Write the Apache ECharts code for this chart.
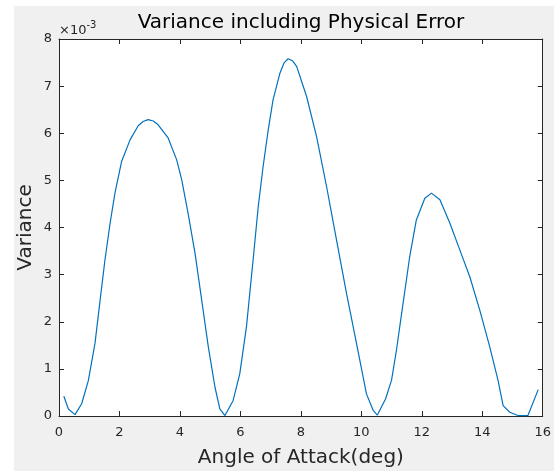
<!DOCTYPE html>
<html>
<head>
<meta charset="utf-8">
<script src="https://cdn.jsdelivr.net/npm/echarts@6/dist/echarts.min.js"></script>
<style>
	html, body { margin: 0; padding: 0; background: #fff; }
	#chart { width: 554px; height: 473px; }
</style>
</head>
<body>
<div id="chart"></div>
<script>
// angle of attack (deg) and variance in units of 1e-3
var angles = [0.16, 0.31, 0.53, 0.75, 0.97, 1.19, 1.36, 1.52, 1.69, 1.85, 2.07, 2.35, 2.62, 2.78, 2.95, 3.12, 3.28,
	3.61, 3.89, 4.06, 4.27, 4.50, 4.72, 4.94, 5.16, 5.32, 5.49, 5.76, 5.98, 6.20, 6.42, 6.59,
	6.75, 6.92, 7.08, 7.31, 7.45, 7.58, 7.72, 7.86, 8.19, 8.52, 8.85, 9.18, 9.51, 9.84, 10.17, 10.39, 10.53,
	10.80, 11.00, 11.16, 11.38, 11.60, 11.82, 12.10, 12.32, 12.60, 12.93, 13.26, 13.59, 13.92, 14.25,
	14.52, 14.69, 14.91, 15.18, 15.51, 15.85]
var variance = [0.42, 0.15, 0.03, 0.26, 0.75, 1.54, 2.46, 3.31, 4.09, 4.73, 5.40, 5.86, 6.16, 6.25, 6.29, 6.26, 6.18,
	5.90, 5.44, 5.01, 4.30, 3.45, 2.46, 1.46, 0.61, 0.15, 0.01, 0.33, 0.90, 1.89, 3.31, 4.44,
	5.29, 6.07, 6.71, 7.28, 7.50, 7.58, 7.54, 7.42, 6.78, 5.93, 4.87, 3.73, 2.60, 1.54, 0.47, 0.12, 0.02,
	0.36, 0.76, 1.39, 2.39, 3.38, 4.16, 4.62, 4.73, 4.59, 4.09, 3.52, 2.95, 2.24, 1.46,
	0.76, 0.22, 0.08, 0.01, 0.01, 0.56]
var xTicks = [0, 2, 4, 6, 8, 10, 12, 14, 16]
var yTicks = [0, 1, 2, 3, 4, 5, 6, 7, 8]

var font = '"DejaVu Sans", "Liberation Sans", Arial, sans-serif'
var ink = '#262626'

var chart = echarts.init(document.getElementById('chart'), null, {renderer: 'canvas'})

var points = angles.map(function (a, i) { return [a, variance[i]] })

function axisBase (extra) {
	var base = {
		type: 'value',
		axisLine: {show: true, onZero: false, lineStyle: {color: ink, width: 1}},
		axisTick: {show: true, inside: true, length: 5, lineStyle: {color: ink}},
		splitLine: {show: false}
	}
	return Object.assign(base, extra)
}

var option = {
	backgroundColor: '#fff',
	animation: false,
	title: {
		text: 'Variance including Physical Error',
		left: 296,
		textAlign: 'center',
		top: 8,
		textStyle: {fontFamily: font, fontSize: 20, fontWeight: 'normal', color: '#000'}
	},
	grid: {
		left: 59, right: 11, top: 39, bottom: 57,
		show: true, backgroundColor: '#fff', borderWidth: 0
	},
	graphic: [{
		// grey figure panel, MATLAB style
		type: 'rect',
		z: -100,
		silent: true,
		shape: {x: 14, y: 6, width: 540, height: 465},
		style: {fill: '#f0f0f0'}
	}, {
		type: 'text',
		left: 59,
		top: 20,
		style: {
			text: '{a|\u00d710}{b|-3}',
			rich: {
				a: {fontFamily: font, fontSize: 13, fill: ink, padding: [4, 0, 0, 0]},
				b: {fontFamily: font, fontSize: 10, fill: ink, verticalAlign: 'top'}
			}
		}
	}],
	xAxis: [
		axisBase({
			min: xTicks[0], max: xTicks[xTicks.length - 1], interval: 2,
			position: 'bottom',
			name: 'Angle of Attack(deg)',
			nameLocation: 'middle',
			nameGap: 32,
			nameTextStyle: {fontFamily: font, fontSize: 20, color: ink},
			axisLabel: {fontFamily: font, fontSize: 13, color: ink, margin: 10}
		}),
		axisBase({
			min: xTicks[0], max: xTicks[xTicks.length - 1], interval: 2,
			position: 'top',
			axisLabel: {show: false}
		})
	],
	yAxis: [
		axisBase({
			min: yTicks[0], max: yTicks[yTicks.length - 1], interval: 1,
			position: 'left',
			name: 'Variance',
			nameLocation: 'middle',
			nameMoveOverlap: false,
			nameGap: 23,
			nameTextStyle: {fontFamily: font, fontSize: 20, color: ink},
			axisLabel: {fontFamily: font, fontSize: 13, color: ink, margin: 7}
		}),
		axisBase({
			min: yTicks[0], max: yTicks[yTicks.length - 1], interval: 1,
			position: 'right',
			axisLabel: {show: false}
		})
	],
	series: [{
		type: 'line',
		data: points,
		showSymbol: false,
		smooth: false,
		lineStyle: {color: '#0072bd', width: 1.2},
		clip: true
	}]
}

chart.setOption(option)
</script>
</body>
</html>
